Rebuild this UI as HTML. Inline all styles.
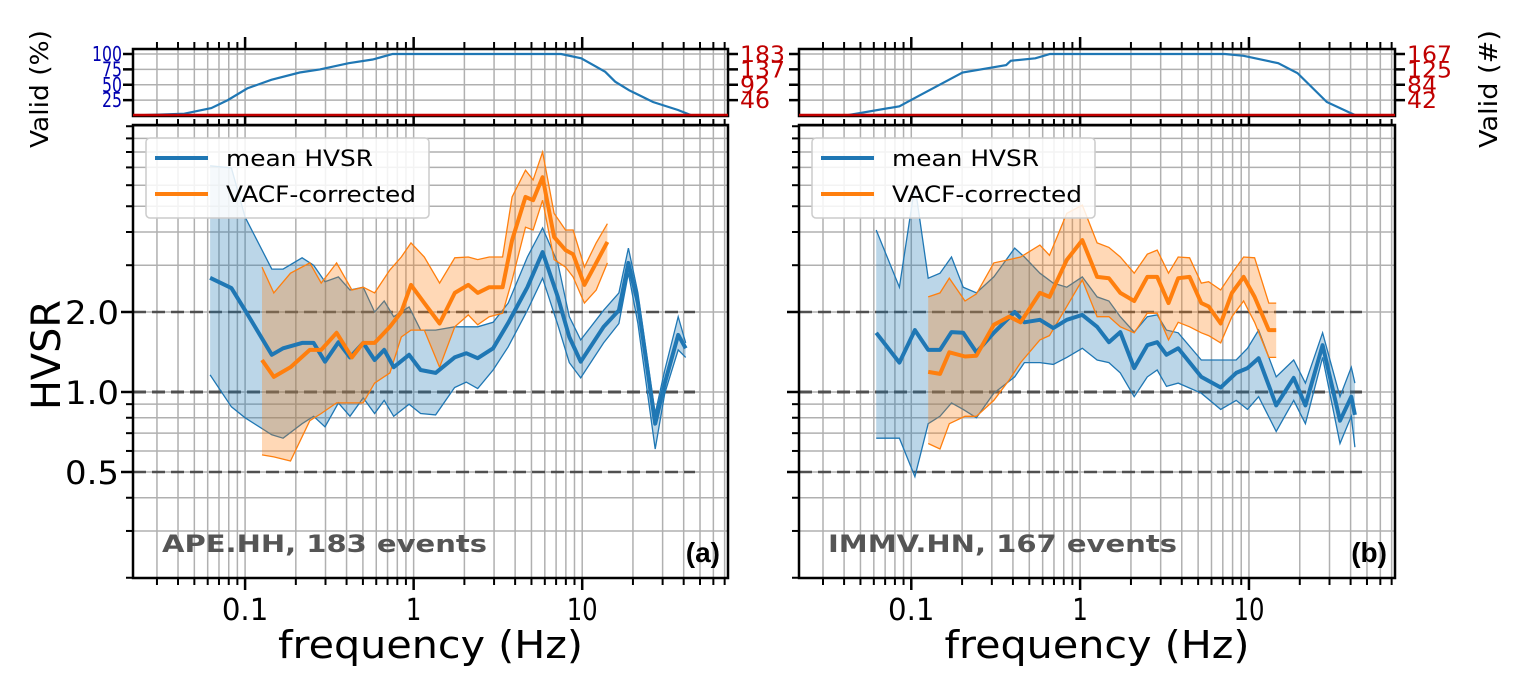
<!DOCTYPE html>
<html><head><meta charset="utf-8"><style>
html,body{margin:0;padding:0;background:#fff;}
svg{display:block;font-family:"DejaVu Sans","Liberation Sans",sans-serif;}
</style></head><body>
<svg id="fig" width="1518" height="686" viewBox="0 0 1518 686" xmlns="http://www.w3.org/2000/svg"></svg>
<script>
// ---- data ----
const leftMeanFreq=[0.062,0.083,0.1,0.144,0.168,0.218,0.255,0.298,0.358,0.419,0.502,0.587,0.669,0.762,0.94,1.10,1.35,1.75,2.05,2.40,2.96,3.64,4.73,5.82,7.17,8.39,9.8,13.4,16.5,18.8,21.4,27.1,30.9,37.1,41.1];
const leftMean=[2.69,2.46,2.03,1.38,1.46,1.53,1.53,1.30,1.54,1.35,1.53,1.32,1.44,1.24,1.38,1.21,1.18,1.35,1.40,1.34,1.46,1.82,2.48,3.36,2.28,1.61,1.30,1.76,2.03,3.06,2.16,0.76,1.08,1.64,1.46];
const leftMeanUpper=[7.1,6.97,4.55,2.9,2.9,3.2,3.0,2.6,2.71,2.42,2.48,2.0,2.2,1.92,2.09,1.71,1.71,1.76,1.76,1.76,1.83,2.16,3.22,4.14,3.06,1.92,1.57,2.03,2.36,3.48,2.36,0.83,1.21,1.92,1.53];
const leftMeanLower=[1.16,0.88,0.8,0.69,0.67,0.76,0.81,0.74,0.91,0.81,0.95,0.83,0.93,0.81,0.9,0.83,0.82,1.04,1.09,1.03,1.21,1.48,2.03,2.68,1.79,1.29,1.13,1.53,1.81,2.80,1.81,0.61,0.99,1.44,1.35];
const leftVacfFreq=[0.126,0.148,0.186,0.242,0.283,0.349,0.430,0.502,0.587,0.723,0.845,0.964,1.157,1.425,1.755,2.11,2.40,2.81,3.37,3.84,4.61,5.11,5.82,6.81,7.96,8.83,10.3,12.1,14.1];
const leftVacf=[1.32,1.14,1.24,1.44,1.44,1.67,1.35,1.53,1.53,1.76,2.0,2.53,2.16,1.81,2.36,2.53,2.36,2.48,2.48,3.73,5.42,5.27,6.43,3.83,3.42,3.3,2.53,3.06,3.67];
const leftVacfUpper=[2.95,2.36,2.8,3.06,2.57,3.06,2.42,2.48,2.36,2.88,3.22,3.64,3.22,2.57,3.2,3.22,3.15,3.22,3.22,5.42,6.83,6.28,8.0,4.7,4.07,4.07,2.95,3.64,4.3];
const leftVacfLower=[0.58,0.57,0.55,0.78,0.83,0.91,0.91,0.91,1.08,1.18,1.61,1.71,1.71,1.24,1.76,1.95,1.79,1.92,1.98,2.64,4.17,4.07,5.27,3.15,2.95,2.71,2.16,2.42,3.06];
const rightMeanFreq=[0.062,0.085,0.105,0.126,0.148,0.173,0.203,0.243,0.308,0.41,0.468,0.578,0.694,0.834,1.03,1.26,1.48,1.73,2.09,2.50,2.86,3.25,3.81,5.22,6.8,8.4,9.8,11.4,14.5,18.4,21.6,27.3,34.6,40.4,42.4];
const rightMean=[1.67,1.29,1.71,1.44,1.44,1.68,1.67,1.41,1.67,2.0,1.83,1.87,1.74,1.87,1.95,1.76,1.54,1.68,1.23,1.50,1.54,1.38,1.46,1.14,1.04,1.18,1.23,1.34,0.89,1.13,0.89,1.50,0.78,0.96,0.82];
const rightMeanUpper=[4.07,2.48,6.0,2.68,2.8,3.22,2.48,2.36,2.71,3.48,3.22,2.8,2.57,2.48,2.71,2.28,2.2,1.92,1.68,1.92,1.95,1.71,1.67,1.32,1.32,1.32,1.46,1.71,1.14,1.32,1.08,1.67,0.96,1.24,1.08];
const rightMeanLower=[0.67,0.67,0.48,0.76,0.81,0.91,0.86,0.8,0.99,1.14,1.29,1.29,1.27,1.35,1.46,1.32,1.29,1.18,0.96,1.14,1.21,1.05,1.08,0.99,0.86,0.93,0.86,0.96,0.71,0.93,0.76,1.35,0.64,0.81,0.62];
const rightVacfFreq=[0.126,0.148,0.168,0.208,0.243,0.308,0.38,0.444,0.578,0.659,0.834,1.03,1.26,1.48,1.73,2.09,2.50,2.86,3.34,3.81,4.45,5.22,5.77,6.8,7.92,9.3,10.8,13.1,14.5];
const rightVacf=[1.19,1.17,1.41,1.36,1.37,1.79,1.92,1.83,2.36,2.28,3.14,3.73,2.71,2.68,2.36,2.2,2.71,2.71,2.16,2.68,2.71,2.16,2.1,1.81,2.36,2.71,2.28,1.71,1.71];
const rightVacfUpper=[2.28,2.36,2.68,2.2,2.34,3.06,3.15,3.22,3.57,3.27,4.7,5.05,3.64,3.5,3.22,2.8,3.3,3.42,2.8,3.22,3.2,2.57,2.6,2.42,2.8,3.22,3.2,2.16,2.16];
const rightVacfLower=[0.64,0.61,0.76,0.81,0.81,0.93,1.11,1.29,1.57,1.63,2.1,2.64,1.92,1.92,1.76,1.67,1.98,1.98,1.57,1.83,1.76,1.67,1.63,1.53,1.92,2.2,1.83,1.35,1.35];
const leftValidFreq=[0.0217,0.0436,0.063,0.079,0.103,0.143,0.211,0.278,0.412,0.571,0.751,7.5,9.87,13.7,15.7,19.0,26.3,37.0,44.8,72];
const leftValidPct=[0,3,12,25,44,58,70,75,85,91,100,100,93,71,55,41,22,9,0,0];
const rightValidFreq=[0.0218,0.041,0.085,0.104,0.201,0.365,0.388,0.543,0.663,7.2,9.3,14.9,19.4,28.9,43,72];
const rightValidPct=[0,0,15,28,70,82,89,93,100,100,97,85,69,22,0,0];
const xTickLabels=["0.1","1","10"];
const xTickValues=[0.1,1,10];
const yTickLabels=["0.5","1.0","2.0"];
const yTickValues=[0.5,1,2];
const pctTicks=[25,50,75,100];
const leftCountLabels=["46","92","137","183"];
const rightCountLabels=["42","84","125","167"];
const refLevels=[0.5,1,2];

// ---- helpers ----
const NS="http://www.w3.org/2000/svg";
const svg=document.getElementById('fig');
function el(tag,attrs,parent,text){const e=document.createElementNS(NS,tag);for(const k in attrs)e.setAttribute(k,attrs[k]);if(text!==undefined)e.textContent=text;(parent||svg).appendChild(e);return e;}
const LMIN=-1.665,LMAX=1.865;
const MT=125,MB=578,TT=49,TB=116;
function yv(v){return 392-80*Math.log2(v);}
function yp(p){return 115.5-0.615*p;}
function minorVals(){const a=[];for(let d=-2;d<=1;d++)for(let m=1;m<10;m++){const v=m*Math.pow(10,d);const l=Math.log10(v);if(l>=LMIN&&l<=LMAX)a.push(v);}return a;}

function panel(cfg){
  const x0=cfg.x0,x1=cfg.x1;
  const xs=f=>x0+(Math.log10(f)-LMIN)/(LMAX-LMIN)*(x1-x0);
  const g=el('g',{});
  
  
  const xv=minorVals();
  // --- top validity panel ---
  const tg=el('g',{},g);
  
  
  xv.forEach(v=>{const x=xs(v);el('line',{x1:x,x2:x,y1:TT,y2:TB,stroke:'#b0b0b0','stroke-width':1.5},tg);});
  pctTicks.forEach(p=>{el('line',{x1:x0,x2:x1,y1:yp(p),y2:yp(p),stroke:'#b0b0b0','stroke-width':1.5},tg);});
  const vp=cfg.vf.map((f,i)=>xs(f).toFixed(1)+','+yp(cfg.vp[i]).toFixed(1)).join(' ');
  const vl=el('polyline',{points:vp,fill:'none',stroke:'#1f77b4','stroke-width':2.2},tg);
  
  
  el('rect',{x:x0,y:TT,width:x1-x0,height:TB-TT,fill:'none',stroke:'#000','stroke-width':2.5},tg);
  const rl=el('line',{x1:x0,x2:x1,y1:115,y2:115,stroke:'#c00000','stroke-width':2.5},tg);
  
  
  xv.forEach(v=>{const x=xs(v);const maj=Math.abs(Math.log10(v)-Math.round(Math.log10(v)))<1e-6;
    el('line',{x1:x,x2:x,y1:TT,y2:TT-(maj?12:7),stroke:'#000','stroke-width':maj?2.5:2},tg);});
  pctTicks.forEach((p,i)=>{
    el('line',{x1:x0,x2:x0-10,y1:yp(p),y2:yp(p),stroke:'#000','stroke-width':2.5},tg);
    el('line',{x1:x1,x2:x1+10,y1:yp(p),y2:yp(p),stroke:'#000','stroke-width':2.5},tg);
    if(cfg.pctLabels){const lbl=String(p);const t=el('text',{x:x0-11,y:yp(p)+7,'text-anchor':'end','font-size':20,fill:'#0000b0',textLength:lbl.length*10,lengthAdjust:'spacingAndGlyphs'},tg,lbl);
      }
    const cl=cfg.countLabels[i];
    const t2=el('text',{x:x1+12,y:yp(p)+8,'font-size':22,fill:'#c00000',textLength:cl.length*15,lengthAdjust:'spacingAndGlyphs'},tg,cl);
    
  });
  // --- main panel ---
  const mg=el('g',{},g);
  
  
  xv.forEach(v=>{const x=xs(v);el('line',{x1:x,x2:x,y1:MT,y2:MB,stroke:'#b0b0b0','stroke-width':1.5},mg);});
  const yvals=[];for(let d=-1;d<=1;d++)for(let m=1;m<10;m++){const v=m*Math.pow(10,d);if(v>=0.2&&v<=10.05)yvals.push(v);}
  yvals.forEach(v=>{const y=yv(v);el('line',{x1:x0,x2:x1,y1:y,y2:y,stroke:'#b0b0b0','stroke-width':1.5},mg);});
  refLevels.forEach(r=>{const l=el('line',{x1:x0,x2:cfg.dashEnd,y1:yv(r),y2:yv(r),stroke:'#444','stroke-width':r===1?3:2.5,'stroke-dasharray':'13,6','stroke-opacity':0.9},mg);
    });
  function band(fr,up,lo,color,nm){
    const pts=fr.map((f,i)=>xs(f).toFixed(1)+','+yv(up[i]).toFixed(1)).concat(fr.map((f,i)=>xs(f).toFixed(1)+','+yv(lo[i]).toFixed(1)).reverse()).join(' ');
    const p=el('polygon',{points:pts,fill:color,'fill-opacity':0.3,stroke:'none'},mg);
    
    [up,lo].forEach(arr=>{el('polyline',{points:fr.map((f,i)=>xs(f).toFixed(1)+','+yv(arr[i]).toFixed(1)).join(' '),fill:'none',stroke:color,'stroke-width':1.3},mg);});
  }
  function line(fr,vals,color,nm){
    const p=el('polyline',{points:fr.map((f,i)=>xs(f).toFixed(1)+','+yv(vals[i]).toFixed(1)).join(' '),fill:'none',stroke:color,'stroke-width':4,'stroke-linejoin':'round'},mg);
    
  }
  band(cfg.mf,cfg.mu,cfg.ml,'#1f77b4','mean-hvsr');
  band(cfg.of,cfg.ou,cfg.ol,'#ff7f0e','vacf-corrected');
  line(cfg.mf,cfg.m,'#1f77b4','mean-hvsr');
  line(cfg.of,cfg.o,'#ff7f0e','vacf-corrected');
  el('rect',{x:x0,y:MT,width:x1-x0,height:MB-MT,fill:'none',stroke:'#000','stroke-width':2.5},mg);
  xv.forEach(v=>{const x=xs(v);const maj=Math.abs(Math.log10(v)-Math.round(Math.log10(v)))<1e-6;
    el('line',{x1:x,x2:x,y1:MB,y2:MB+(maj?12:7),stroke:'#000','stroke-width':maj?2.5:2},mg);
    el('line',{x1:x,x2:x,y1:MT,y2:MT-(maj?9:6),stroke:'#000','stroke-width':maj?2.5:2},mg);});
  yvals.forEach(v=>{const maj=yTickValues.indexOf(v)>=0;const y=yv(v);
    el('line',{x1:x0,x2:x0-(maj?12:7),y1:y,y2:y,stroke:'#000','stroke-width':maj?2.5:2},mg);});
  xTickValues.forEach((v,i)=>{const lbl=xTickLabels[i];const t=el('text',{x:xs(v),y:620,'text-anchor':'middle','font-size':30,textLength:lbl.length*15.5,lengthAdjust:'spacingAndGlyphs'},mg,lbl);
    });
  if(cfg.yLabels){yTickValues.forEach((v,i)=>{const t=el('text',{x:x0-14,y:yv(v)+12,'text-anchor':'end','font-size':32,textLength:54,lengthAdjust:'spacingAndGlyphs'},mg,yTickLabels[i]);
    });}
  const xt=el('text',{x:(x0+x1)/2-0,y:658,'text-anchor':'middle','font-size':38,textLength:305,lengthAdjust:'spacingAndGlyphs'},mg,'frequency (Hz)');
  
  const st=el('text',{x:x0+29,y:552,'font-size':24,'font-weight':'bold',fill:'#555',textLength:cfg.stationW,lengthAdjust:'spacingAndGlyphs'},mg,cfg.station);
  
  const pl=el('text',{x:x1-8,y:562,'text-anchor':'end','font-size':28,'font-weight':'bold','font-family':'Liberation Sans, sans-serif'},mg,cfg.tag);
  
  // legend
  const lg=el('g',{},mg);
  
  
  const lx=x0+13;
  el('rect',{x:lx,y:138,width:283,height:80,rx:4,fill:'#fff','fill-opacity':0.85,stroke:'#ccc','stroke-width':1.5},lg);
  const e1=el('g',{},lg);
  el('line',{x1:lx+9,x2:lx+62,y1:158,y2:158,stroke:'#1f77b4','stroke-width':4},e1);
  el('text',{x:lx+80,y:166,'font-size':22,textLength:147,lengthAdjust:'spacingAndGlyphs'},e1,'mean HVSR');
  const e2=el('g',{},lg);
  el('line',{x1:lx+9,x2:lx+62,y1:194,y2:194,stroke:'#ff7f0e','stroke-width':4},e2);
  el('text',{x:lx+80,y:202,'font-size':22,textLength:190,lengthAdjust:'spacingAndGlyphs'},e2,'VACF-corrected');
}

panel({name:'panel-a',x0:133,x1:728,dashEnd:695,vf:leftValidFreq,vp:leftValidPct,pctLabels:true,countLabels:leftCountLabels,
  mf:leftMeanFreq,m:leftMean,mu:leftMeanUpper,ml:leftMeanLower,of:leftVacfFreq,o:leftVacf,ou:leftVacfUpper,ol:leftVacfLower,
  yLabels:true,station:'APE.HH, 183 events',stationW:325,tag:'(a)'});
panel({name:'panel-b',x0:799,x1:1395,dashEnd:1362,vf:rightValidFreq,vp:rightValidPct,pctLabels:false,countLabels:rightCountLabels,
  mf:rightMeanFreq,m:rightMean,mu:rightMeanUpper,ml:rightMeanLower,of:rightVacfFreq,o:rightVacf,ou:rightVacfUpper,ol:rightVacfLower,
  yLabels:false,station:'IMMV.HN, 167 events',stationW:349,tag:'(b)'});

const yt=el('text',{x:0,y:0,'text-anchor':'middle','font-size':40,transform:'translate(60,355) rotate(-90)',textLength:110,lengthAdjust:'spacingAndGlyphs'},svg,'HVSR');

const v1=el('text',{x:0,y:0,'text-anchor':'middle','font-size':25,transform:'translate(48,89) rotate(-90)',textLength:118,lengthAdjust:'spacingAndGlyphs'},svg,'Valid (%)');

const v2=el('text',{x:0,y:0,'text-anchor':'middle','font-size':25,transform:'translate(1497,89) rotate(-90)',textLength:118,lengthAdjust:'spacingAndGlyphs'},svg,'Valid (#)');

</script>
</body></html>
